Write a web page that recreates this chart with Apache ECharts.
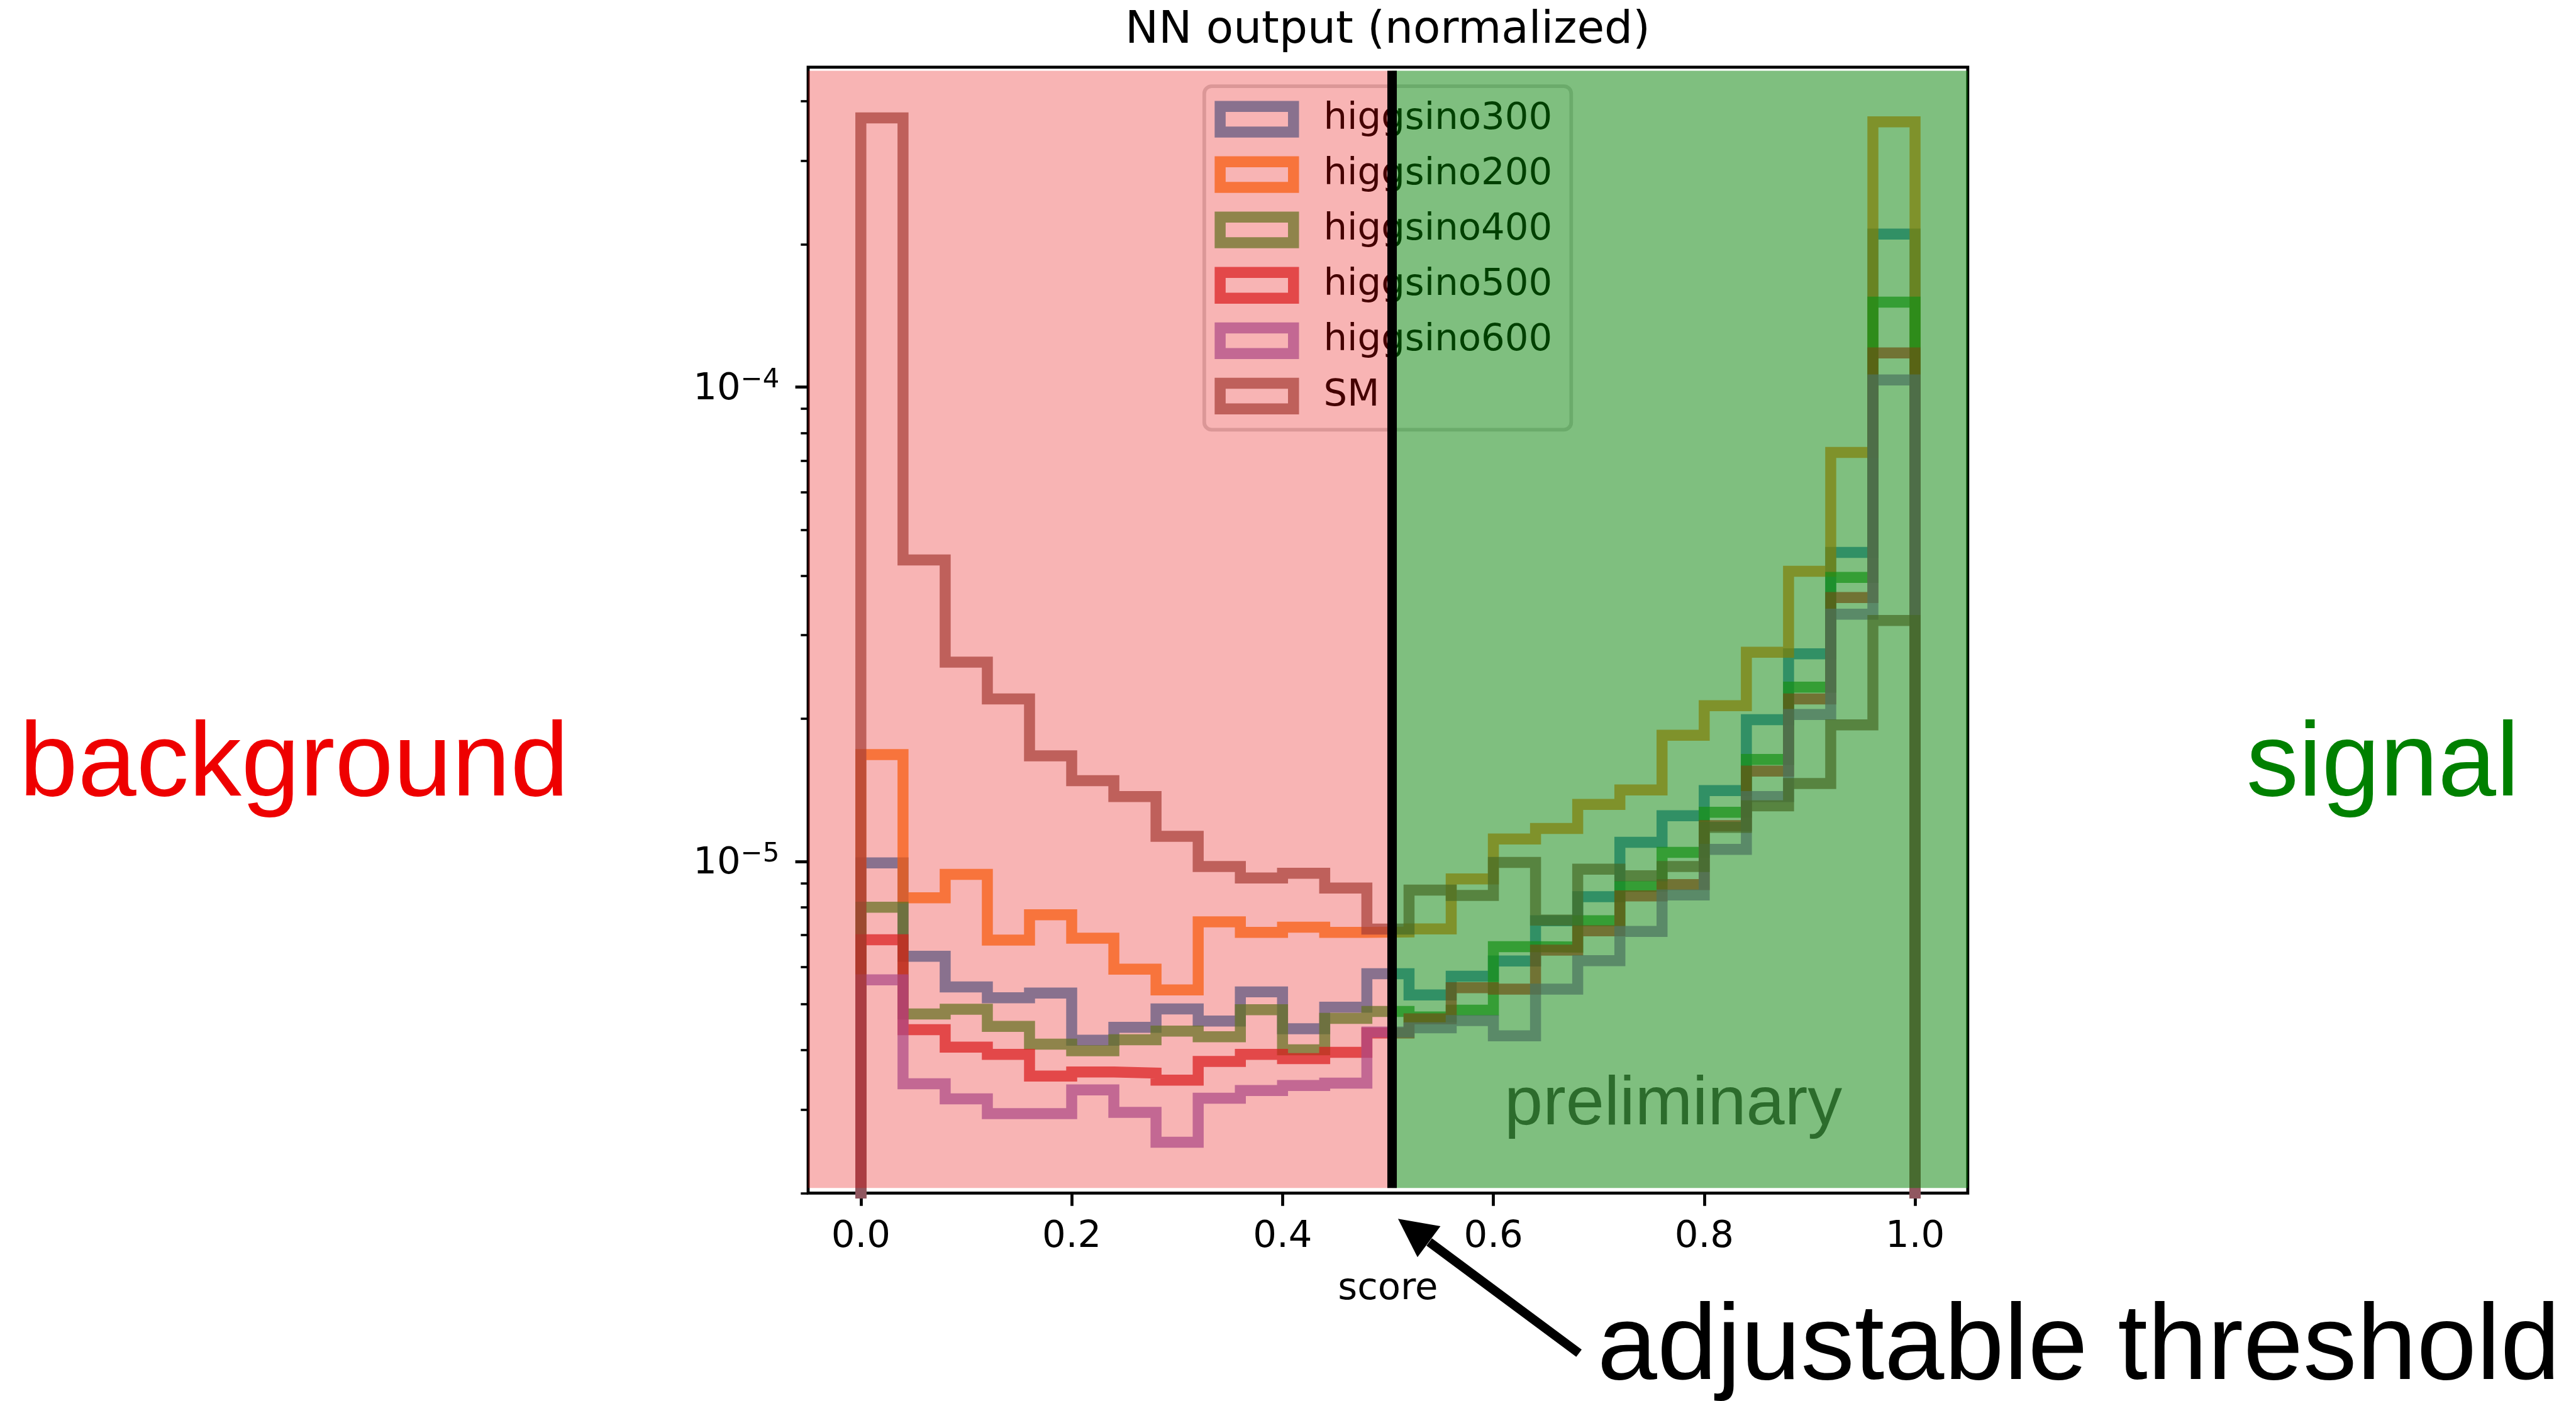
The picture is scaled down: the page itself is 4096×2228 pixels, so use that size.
<!DOCTYPE html>
<html>
<head>
<meta charset="utf-8">
<title>NN output (normalized)</title>
<script src="https://cdn.jsdelivr.net/npm/echarts@6/dist/echarts.min.js"></script>
<style>
  html, body { margin: 0; padding: 0; background: #fff; }
  #chart { width: 4096px; height: 2228px; }
</style>
</head>
<body>
<div id="chart"></div>
<script>
// reference was measured at 4210 px wide, the window is 4096 -> everything at 0.972
const S = 0.972
const px = v => v * S

const SERIES_NAMES = ['higgsino300', 'higgsino200', 'higgsino400', 'higgsino500', 'higgsino600', 'SM']
const SERIES_COLORS = ['#1f77b4', '#ff7f0e', '#2ca02c', '#d62728', '#9467bd', '#8c564b']

const BIN_EDGES = [0.00, 0.04, 0.08, 0.12, 0.16, 0.20, 0.24, 0.28, 0.32, 0.36, 0.40, 0.44, 0.48,
  0.52, 0.56, 0.60, 0.64, 0.68, 0.72, 0.76, 0.80, 0.84, 0.88, 0.92, 0.96, 1.00]

// normalized counts per bin
const H300 = [9.93e-6, 6.31e-6, 5.44e-6, 5.16e-6, 5.28e-6, 4.20e-6, 4.47e-6, 4.89e-6, 4.61e-6, 5.31e-6,
  4.44e-6, 4.93e-6, 5.80e-6, 5.23e-6, 5.73e-6, 6.17e-6, 7.50e-6, 8.43e-6, 1.097e-5, 1.248e-5,
  1.41e-5, 1.99e-5, 2.74e-5, 4.48e-5, 2.10e-4]
const H200 = [1.68e-5, 8.38e-6, 9.39e-6, 6.83e-6, 7.72e-6, 6.89e-6, 5.93e-6, 5.36e-6, 7.46e-6, 7.09e-6,
  7.27e-6, 7.09e-6, 7.10e-6, 7.21e-6, 9.19e-6, 1.115e-5, 1.174e-5, 1.319e-5, 1.415e-5, 1.845e-5,
  2.13e-5, 2.76e-5, 4.09e-5, 7.28e-5, 3.62e-4]
const H400 = [8.01e-6, 4.77e-6, 4.88e-6, 4.49e-6, 4.12e-6, 3.99e-6, 4.21e-6, 4.39e-6, 4.27e-6, 4.87e-6,
  4.01e-6, 4.67e-6, 4.83e-6, 4.70e-6, 4.86e-6, 6.61e-6, 6.60e-6, 7.50e-6, 8.86e-6, 1.045e-5,
  1.27e-5, 1.64e-5, 2.33e-5, 3.97e-5, 1.51e-4]
const H500 = [6.84e-6, 4.42e-6, 4.06e-6, 3.92e-6, 3.53e-6, 3.60e-6, 3.58e-6, 3.46e-6, 3.79e-6, 3.92e-6,
  3.84e-6, 3.96e-6, 4.35e-6, 4.66e-6, 5.42e-6, 5.38e-6, 6.50e-6, 7.14e-6, 8.46e-6, 8.94e-6,
  1.19e-5, 1.55e-5, 2.20e-5, 3.60e-5, 1.18e-4]
const H600 = [5.63e-6, 3.40e-6, 3.16e-6, 2.94e-6, 2.94e-6, 3.30e-6, 2.96e-6, 2.56e-6, 3.17e-6, 3.29e-6,
  3.37e-6, 3.41e-6, 4.37e-6, 4.46e-6, 4.62e-6, 4.29e-6, 5.38e-6, 6.18e-6, 7.12e-6, 8.50e-6,
  1.06e-5, 1.37e-5, 2.04e-5, 3.32e-5, 1.035e-4]
const SM = [3.69e-4, 4.32e-5, 2.63e-5, 2.20e-5, 1.67e-5, 1.48e-5, 1.37e-5, 1.13e-5, 9.76e-6, 9.23e-6,
  9.44e-6, 8.79e-6, 7.20e-6, 8.70e-6, 8.48e-6, 9.95e-6, 7.52e-6, 9.63e-6, 9.33e-6, 9.76e-6,
  1.18e-5, 1.31e-5, 1.46e-5, 1.94e-5, 3.22e-5]
const SERIES_VALUES = [H300, H200, H400, H500, H600, SM]

const X_TICKS = [0, 0.2, 0.4, 0.6, 0.8, 1.0]
const Y_MAJOR_TICKS = [1e-5, 1e-4]
const Y_MINOR_TICKS = [2e-6, 3e-6, 4e-6, 5e-6, 6e-6, 7e-6, 8e-6, 9e-6,
  2e-5, 3e-5, 4e-5, 5e-5, 6e-5, 7e-5, 8e-5, 9e-5, 2e-4, 3e-4, 4e-4]

const X_MIN = -0.05
const X_MAX = 1.05
const Y_MIN = 2e-6
const Y_MAX = 4.72e-4
const HIST_FLOOR = 1e-7      // histogram zero, below the log axis, gets clipped
const THRESHOLD = 0.504
const SHADE_TOP = 4.64e-4
const SHADE_BOTTOM = 2.05e-6

const BG_SHADE = 'rgba(230, 0, 0, 0.295)'
const SIG_SHADE = 'rgba(0, 128, 0, 0.5)'
const MPL_FONT = 'DejaVu Sans'
const SLIDE_FONT = 'Liberation Sans'

// step outline of a histogram, dropping to the floor at both ends
function stepPoints(values) {
  const pts = [[BIN_EDGES[0], HIST_FLOOR]]
  values.forEach((v, i) => {
    pts.push([BIN_EDGES[i], v])
    pts.push([BIN_EDGES[i + 1], v])
  })
  pts.push([BIN_EDGES[BIN_EDGES.length - 1], HIST_FLOOR])
  return pts
}

function powerLabel(v) {
  const e = Math.round(Math.log10(v))
  return '{b|10}{s|\u2212' + Math.abs(e) + '}'
}

// text placed by its baseline
function slideText(text, x, baseline, size, color, family, z, align) {
  const a = align || 'left'
  return {
    type: 'text',
    x: px(x),
    y: px(baseline - 0.31 * size),
    z: z,
    silent: true,
    style: {
      text: text,
      fontSize: px(size),
      fontFamily: family,
      fill: color,
      align: a,
      verticalAlign: 'middle',
      textAlign: a,
      textVerticalAlign: 'middle'
    }
  }
}

const series = SERIES_NAMES.map((name, i) => ({
  name: name,
  type: 'line',
  data: stepPoints(SERIES_VALUES[i]),
  showSymbol: false,
  symbol: 'none',
  clip: true,
  silent: true,
  z: 2,
  itemStyle: { color: SERIES_COLORS[i] },
  lineStyle: {
    color: SERIES_COLORS[i],
    width: px(18),
    opacity: 0.7,
    join: 'miter',
    cap: 'butt'
  },
  emphasis: { disabled: true }
}))

series.push({
  name: 'regions',
  type: 'line',
  data: [],
  silent: true,
  markArea: {
    silent: true,
    z: 10,
    label: { show: false },
    emphasis: { disabled: true },
    data: [
      [{ coord: [X_MIN, SHADE_BOTTOM], itemStyle: { color: BG_SHADE } }, { coord: [THRESHOLD, SHADE_TOP] }],
      [{ coord: [THRESHOLD, SHADE_BOTTOM], itemStyle: { color: SIG_SHADE } }, { coord: [X_MAX, SHADE_TOP] }]
    ]
  },
  markLine: {
    silent: true,
    z: 11,
    symbol: ['none', 'none'],
    label: { show: false },
    emphasis: { disabled: true },
    lineStyle: { color: '#000', width: px(15.5), type: 'solid', opacity: 1 },
    data: [[{ coord: [THRESHOLD, SHADE_BOTTOM] }, { coord: [THRESHOLD, SHADE_TOP] }]]
  }
})

const chart = echarts.init(document.getElementById('chart'), null, { renderer: 'canvas', width: 4096, height: 2228 })

const option = {
  animation: false,
  backgroundColor: '#fff',
  textStyle: { fontFamily: MPL_FONT },
  title: {
    text: 'NN output (normalized)',
    left: px(2270),
    top: px(15),
    textAlign: 'center',
    padding: 0,
    textStyle: { fontFamily: MPL_FONT, fontSize: px(73), fontWeight: 'normal', color: '#000', lineHeight: px(73) }
  },
  grid: {
    left: px(1322),
    top: px(110),
    width: px(1897),
    height: px(1842),
    containLabel: false,
    outerBoundsMode: 'none',
    show: true,
    borderColor: '#000',
    borderWidth: px(4.9),
    backgroundColor: 'transparent'
  },
  legend: {
    orient: 'vertical',
    left: px(1970),
    top: px(141),
    padding: [px(23.5), px(31), px(24.5), px(17)],
    itemGap: px(29.6),
    itemWidth: px(120),
    itemHeight: px(42),
    selectedMode: false,
    backgroundColor: 'rgba(255,255,255,0.8)',
    borderColor: 'rgba(204,204,204,0.8)',
    borderWidth: px(6),
    borderRadius: px(12),
    textStyle: {
      fontFamily: MPL_FONT,
      fontSize: px(61),
      color: '#000',
      lineHeight: px(61),
      padding: [0, 0, 0, px(44)]
    },
    data: SERIES_NAMES.map((name, i) => ({
      name: name,
      icon: 'rect',
      itemStyle: {
        color: 'rgba(0,0,0,0)',
        borderColor: SERIES_COLORS[i],
        borderWidth: px(18),
        borderJoin: 'miter',
        opacity: 0.7
      }
    }))
  },
  xAxis: {
    type: 'value',
    min: X_MIN,
    max: X_MAX,
    name: 'score',
    nameLocation: 'middle',
    nameGap: px(127),
    nameMoveOverlap: false,
    nameTextStyle: { fontFamily: MPL_FONT, fontSize: px(61), color: '#000', lineHeight: px(61), verticalAlign: 'top' },
    axisLine: { show: false, onZero: false },
    axisTick: { show: true, customValues: X_TICKS, length: px(21), lineStyle: { color: '#000', width: px(4.9) } },
    axisLabel: {
      show: true,
      customValues: X_TICKS,
      margin: px(42),
      formatter: v => v.toFixed(1),
      fontFamily: MPL_FONT,
      fontSize: px(61),
      lineHeight: px(61),
      verticalAlign: 'top',
      color: '#000'
    },
    splitLine: { show: false }
  },
  yAxis: [
    {
      type: 'log',
      logBase: 10,
      min: Y_MIN,
      max: Y_MAX,
      position: 'left',
      axisLine: { show: false, onZero: false },
      axisTick: { show: true, customValues: Y_MAJOR_TICKS, length: px(21), lineStyle: { color: '#000', width: px(4.9) } },
      axisLabel: {
        show: true,
        customValues: Y_MAJOR_TICKS,
        margin: px(47),
        padding: [px(8), 0, 0, 0],
        formatter: powerLabel,
        rich: {
          b: { fontFamily: MPL_FONT, fontSize: px(61), lineHeight: px(61), color: '#000' },
          s: { fontFamily: MPL_FONT, fontSize: px(43), height: px(31), lineHeight: px(31), verticalAlign: 'top', color: '#000' }
        }
      },
      splitLine: { show: false },
      minorTick: { show: false },
      minorSplitLine: { show: false }
    },
    {
      type: 'log',
      logBase: 10,
      min: Y_MIN,
      max: Y_MAX,
      position: 'left',
      offset: 0,
      axisLine: { show: false, onZero: false },
      axisTick: { show: true, customValues: Y_MINOR_TICKS, length: px(12), lineStyle: { color: '#000', width: px(3.7) } },
      axisLabel: { show: false },
      splitLine: { show: false }
    }
  ],
  series: series,
  graphic: [
    slideText('preliminary', 2461, 1843, 113, '#595959', SLIDE_FONT, 3),
    slideText('background', 31.6, 1307, 172, '#ee0000', SLIDE_FONT, 20),
    slideText('signal', 3898, 1307, 171, '#008000', SLIDE_FONT, 20, 'center'),
    slideText('adjustable threshold', 2613, 2262, 176, '#000', SLIDE_FONT, 20),
    {
      type: 'line',
      z: 20,
      silent: true,
      shape: { x1: px(2583), y1: px(2214), x2: px(2338), y2: px(2032) },
      style: { stroke: '#000', lineWidth: px(15), lineCap: 'butt' }
    },
    {
      type: 'polygon',
      z: 20,
      silent: true,
      shape: { points: [[px(2287), px(1994)], [px(2356.4), px(2006.3)], [px(2318.8), px(2056.9)]] },
      style: { fill: '#000' }
    }
  ]
}

chart.setOption(option)
</script>
</body>
</html>
